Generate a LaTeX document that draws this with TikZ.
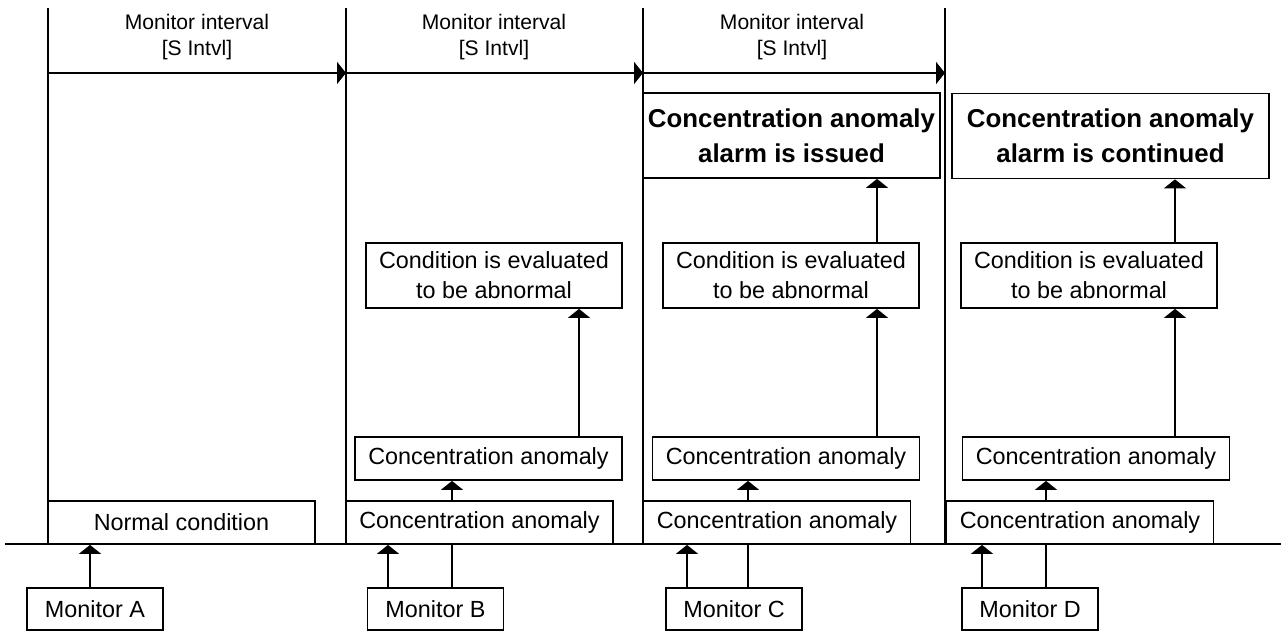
\documentclass[tikz,border=0pt]{standalone}
\usepackage{fontspec}
\setmainfont{Liberation Sans}
\usetikzlibrary{arrows.meta}
\tikzset{
  >={Triangle[length=1.8mm,width=4.4mm]},
  box/.style={draw,rectangle,inner sep=0pt,align=center,font=\fontsize{13.3}{17}\selectfont},
  wbox/.style={box,minimum width=53.4mm,minimum height=8.6mm},
  ebox/.style={box,minimum width=51.2mm,minimum height=13mm},
  abox/.style={box,minimum height=17mm,font=\fontsize{14.7}{20}\selectfont\bfseries},
  mbox/.style={box,minimum width=27.2mm,minimum height=8.4mm},
  lbl/.style={align=center,inner sep=0pt,font=\fontsize{12}{15}\selectfont},
  sep/.style={line width=0.8pt},
  every picture/.style={line width=1pt},
}

\begin{document}
\begin{tikzpicture}[x=0.2mm,y=-0.2mm]
\useasboundingbox (0,0) rectangle (1281,632);
% time axis and interval marks
\coordinate (s0) at (48,8); \coordinate (s1) at (346,8); \coordinate (s2) at (643,8); \coordinate (s3) at (945,8);
\coordinate (axl) at (5,544); \coordinate (axr) at (1281,544);
\draw[sep] (axl)--(axr);
\draw[sep] (s0)--(s0 |- axl); \draw[sep] (s1)--(s1 |- axl); \draw[sep] (s2)--(s2 |- axl); \draw[sep] (s3)--(s3 |- axl);
\coordinate (i0) at (48,73); \coordinate (i1) at (346,73); \coordinate (i2) at (643,73); \coordinate (i3) at (945,73);
\draw[->] (i0)--(i1); \draw[->] (i1)--(i2); \draw[->] (i2)--(i3);
\node[lbl] (int1) at (197,37){Monitor interval\\{}[S Intvl]};
\node[lbl] (int2) at (494,37){Monitor interval\\{}[S Intvl]};
\node[lbl] (int3) at (792,37){Monitor interval\\{}[S Intvl]};
% monitors
\node[mbox] (monA) at (95,609){Monitor A}; \node[mbox] (monB) at (435.5,609){Monitor B};
\node[mbox] (monC) at (734,609){Monitor C}; \node[mbox] (monD) at (1030,609){Monitor D};
% first interval
\node[wbox] (normal) at (181.5,522.5){Normal condition};
\coordinate (xa) at (90,0);
\draw[->] (monA.north -| xa)--(normal.south -| xa);
% second interval
\node[wbox] (cb1) at (479.5,522.5){Concentration anomaly};
\node[wbox] (cb2) at (488.5,458.5){Concentration anomaly};
\node[ebox] (evB) at (494,275.5){Condition is evaluated\\to be abnormal};
\coordinate (xb1) at (388,0); \coordinate (xb2) at (452,0); \coordinate (xb3) at (579,0);
\draw[->] (monB.north -| xb1)--(cb1.south -| xb1); \draw (monB.north -| xb2)--(cb1.south -| xb2);
\draw[->] (cb1.north -| xb2)--(cb2.south -| xb2); \draw[->] (cb2.north -| xb3)--(evB.south -| xb3);
% third interval
\node[wbox] (cc1) at (777,522.5){Concentration anomaly};
\node[wbox] (cc2) at (786,458.5){Concentration anomaly};
\node[ebox] (evC) at (791,275.5){Condition is evaluated\\to be abnormal};
\node[abox,minimum width=59.4mm] (alC) at (791.5,135.5){Concentration anomaly\\alarm is issued};
\coordinate (xc1) at (687,0); \coordinate (xc2) at (748,0); \coordinate (xc3) at (877,0);
\draw[->] (monC.north -| xc1)--(cc1.south -| xc1); \draw (monC.north -| xc2)--(cc1.south -| xc2);
\draw[->] (cc1.north -| xc2)--(cc2.south -| xc2); \draw[->] (cc2.north -| xc3)--(evC.south -| xc3);
\draw[->] (evC.north -| xc3)--(alC.south -| xc3);
% fourth interval
\node[wbox] (cd1) at (1080,522.5){Concentration anomaly};
\node[wbox] (cd2) at (1096,458.5){Concentration anomaly};
\node[ebox] (evD) at (1089,275.5){Condition is evaluated\\to be abnormal};
\node[abox,minimum width=63.4mm] (alD) at (1110.5,136){Concentration anomaly\\alarm is continued};
\coordinate (xd1) at (982,0); \coordinate (xd2) at (1046,0); \coordinate (xd3) at (1175,0);
\draw[->] (monD.north -| xd1)--(cd1.south -| xd1); \draw (monD.north -| xd2)--(cd1.south -| xd2);
\draw[->] (cd1.north -| xd2)--(cd2.south -| xd2); \draw[->] (cd2.north -| xd3)--(evD.south -| xd3);
\draw[->] (evD.north -| xd3)--(alD.south -| xd3);
\end{tikzpicture}
\end{document}
